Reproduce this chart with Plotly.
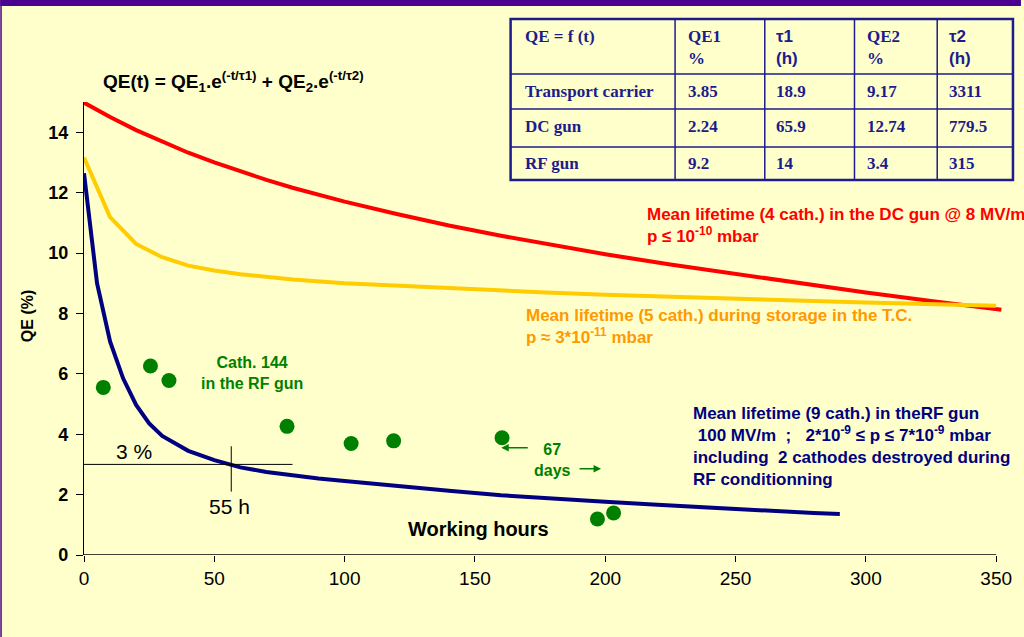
import plotly.graph_objects as go

# ---- QE decay curves (working hours -> QE %) ----
dc_t = [0, 10, 20, 30, 40, 50, 60, 70, 80, 90, 100, 120, 140, 160, 180, 200, 225, 250, 275, 300, 325, 352]
dc_qe = [14.98, 14.50, 14.07, 13.68, 13.32, 13.00, 12.70, 12.42, 12.16, 11.92, 11.70, 11.29,
         10.91, 10.57, 10.26, 9.96, 9.62, 9.30, 8.99, 8.69, 8.41, 8.12]

tc_t = [0, 10, 20, 30, 40, 50, 60, 70, 80, 100, 125, 150, 175, 200, 250, 300, 350]
tc_qe = [13.16, 11.19, 10.30, 9.86, 9.58, 9.42, 9.30, 9.20, 9.12, 9.00, 8.90, 8.78, 8.70,
         8.62, 8.48, 8.36, 8.25]

rf_t = [0, 5, 10, 15, 20, 25, 30, 40, 50, 60, 70, 80, 90, 100, 120, 140, 160, 180, 200,
        220, 240, 260, 280, 290]
rf_qe = [12.64, 9.00, 7.07, 5.85, 4.97, 4.36, 3.94, 3.45, 3.14, 2.90, 2.75, 2.63, 2.53, 2.45,
         2.28, 2.13, 1.98, 1.86, 1.76, 1.66, 1.56, 1.47, 1.39, 1.36]

# Cathode 144 measurements in the RF gun
cath144_t = [7.4, 25.5, 32.6, 77.9, 102.5, 118.8, 160.4, 197.0, 203.2]
cath144_qe = [5.55, 6.26, 5.78, 4.26, 3.69, 3.78, 3.88, 1.19, 1.39]

x_ticks = [0, 50, 100, 150, 200, 250, 300, 350]
y_ticks = [0, 2, 4, 6, 8, 10, 12, 14]

# Fit parameters table
tbl_header = ["QE = f (t)", "QE1<br>%", "τ1<br>(h)", "QE2<br>%", "τ2<br>(h)"]
tbl_rows = ["Transport carrier", "DC gun", "RF gun"]
tbl_qe1 = ["3.85", "2.24", "9.2"]
tbl_tau1 = ["18.9", "65.9", "14"]
tbl_qe2 = ["9.17", "12.74", "3.4"]
tbl_tau2 = ["3311", "779.5", "315"]

# ---- page geometry ----
W, H = 1024, 637
L, R, T, B = 84, 17, 102, 82
PW, PH = W - L - R, H - T - B


def px(x):
    return (x - L) / PW


def py(y):
    return (H - B - y) / PH


BG = "#FFFFCC"
RED = "#FF0000"
YEL = "#FFCC00"
ORANGE = "#FF9900"
NAVY = "#000080"
GREEN = "#008000"
TBL = "#1C1C8C"
PURPLE = "#4B0090"
SANS = "Liberation Sans"
SERIF = "Liberation Serif"

fig = go.Figure()

fig.add_trace(go.Scatter(x=dc_t, y=dc_qe, mode="lines", line=dict(color=RED, width=4),
                         showlegend=False, hoverinfo="skip"))
fig.add_trace(go.Scatter(x=tc_t, y=tc_qe, mode="lines", line=dict(color=YEL, width=4),
                         showlegend=False, hoverinfo="skip"))
fig.add_trace(go.Scatter(x=rf_t, y=rf_qe, mode="lines", line=dict(color=NAVY, width=4),
                         showlegend=False, hoverinfo="skip"))
fig.add_trace(go.Scatter(x=cath144_t, y=cath144_qe, mode="markers",
                         marker=dict(color=GREEN, size=15, line=dict(width=0)),
                         showlegend=False, hoverinfo="skip", cliponaxis=False))

shapes = []
# purple frame
shapes.append(dict(type="rect", xref="paper", yref="paper", x0=px(0), x1=px(W), y0=py(6), y1=py(0),
                   fillcolor=PURPLE, line=dict(width=0), layer="above"))
shapes.append(dict(type="rect", xref="paper", yref="paper", x0=px(0), x1=px(1.5), y0=py(H), y1=py(0),
                   fillcolor=PURPLE, line=dict(width=0), layer="above"))
# x axis line
shapes.append(dict(type="line", xref="x", yref="y", x0=0, x1=350, y0=0, y1=0,
                   line=dict(color="black", width=1.3)))
# 3 % / 55 h marker lines
shapes.append(dict(type="line", xref="x", yref="y", x0=0, x1=80, y0=3, y1=3,
                   line=dict(color="black", width=1)))
shapes.append(dict(type="line", xref="x", yref="y", x0=56.5, x1=56.5, y0=2.1, y1=3.6,
                   line=dict(color="black", width=1)))

# table grid
col_x = [512, 677, 767, 857, 940, 1016]
row_y = [19, 74, 109, 147, 180]
for cx in col_x[1:-1]:
    shapes.append(dict(type="line", xref="paper", yref="paper", x0=px(cx), x1=px(cx),
                       y0=py(row_y[0]), y1=py(row_y[-1]), line=dict(color=TBL, width=1.5)))
for ry in row_y[1:-1]:
    shapes.append(dict(type="line", xref="paper", yref="paper", x0=px(col_x[0]), x1=px(col_x[-1]),
                       y0=py(ry), y1=py(ry), line=dict(color=TBL, width=1.5)))
shapes.append(dict(type="rect", xref="paper", yref="paper", x0=px(col_x[0]), x1=px(col_x[-1]),
                   y0=py(row_y[-1]), y1=py(row_y[0]), line=dict(color=TBL, width=2.5)))

ann = []


def text(x, y, s, size, color="black", bold=True, family=SANS, xanchor="left",
         yanchor="middle", align="left"):
    ann.append(dict(xref="paper", yref="paper", x=px(x), y=py(y), text=s, showarrow=False,
                    xanchor=xanchor, yanchor=yanchor, align=align,
                    font=dict(family=family, size=size, color=color,
                              weight="bold" if bold else "normal")))


# formula
text(101, 81, "QE(t) = QE<sub>1</sub>.e<sup>(-t/τ1)</sup> + QE<sub>2</sub>.e<sup>(-t/τ2)</sup>", 19)

# series descriptions
text(647, 225, "Mean lifetime (4 cath.) in the DC gun @ 8 MV/m<br>p ≤ 10<sup>-10</sup> mbar", 17, RED)
text(525, 326, "Mean lifetime (5 cath.) during storage in the T.C.<br>p ≈ 3*10<sup>-11</sup> mbar", 17, ORANGE)
text(693, 446, "Mean lifetime (9 cath.) in theRF gun<br> 100 MV/m  ;   2*10<sup>-9</sup> ≤ p ≤ 7*10<sup>-9</sup> mbar"
               "<br>including  2 cathodes destroyed during<br>RF conditionning", 17, NAVY)
text(253, 373, "Cath. 144<br>in the RF gun", 16, GREEN, xanchor="center", align="center")
text(554, 460, "67<br>days", 16, GREEN, xanchor="center", align="center")
text(480, 529, "Working hours", 20, xanchor="center")
text(134, 451, "3 %", 21, bold=False, xanchor="center")
text(230, 506, "55 h", 21, bold=False, xanchor="center")

# y axis title
ann.append(dict(xref="paper", yref="paper", x=px(27), y=py(316), text="QE (%)", showarrow=False,
                textangle=-90, xanchor="center", yanchor="middle",
                font=dict(family=SANS, size=16, color="black", weight="bold")))

# "67 days" arrows
ann.append(dict(xref="x", yref="y", x=160.1, y=3.55, ax=28, ay=0, text="", showarrow=True,
                arrowhead=2, arrowsize=1, arrowwidth=1.5, arrowcolor=GREEN))
ann.append(dict(xref="x", yref="y", x=198.4, y=2.86, ax=-23, ay=0, text="", showarrow=True,
                arrowhead=2, arrowsize=1, arrowwidth=1.5, arrowcolor=GREEN))

# table text
col_text_x = [524, 688, 776, 868, 950]
for i, h in enumerate(tbl_header):
    fam = SANS if h.startswith("τ") else SERIF
    text(col_text_x[i], 25, h, 17, TBL, family=fam, yanchor="top")
row_text_y = [91, 126, 163]
for r, name in enumerate(tbl_rows):
    vals = [name, tbl_qe1[r], tbl_tau1[r], tbl_qe2[r], tbl_tau2[r]]
    for c, v in enumerate(vals):
        text(col_text_x[c], row_text_y[r], v, 17, TBL, family=SERIF)

fig.update_layout(
    width=W, height=H,
    margin=dict(l=L, r=R, t=T, b=B, pad=0),
    paper_bgcolor=BG, plot_bgcolor=BG,
    shapes=shapes, annotations=ann,
    xaxis=dict(range=[0, 353], tickvals=x_ticks, ticktext=[str(v) for v in x_ticks],
               showgrid=False, zeroline=False, showline=False,
               ticks="outside", ticklen=6, tickcolor="black", tickwidth=1,
               tickfont=dict(family=SANS, size=19, color="black")),
    yaxis=dict(range=[0, 15], tickvals=y_ticks, showgrid=False, zeroline=False,
               showline=True, linecolor="black", linewidth=1.3,
               ticks="outside", ticklen=7, tickcolor="black", tickwidth=1,
               ticklabelstandoff=4,
               tickfont=dict(family=SANS, size=18, color="black", weight="bold")),
)

fig.write_html("out.html")
